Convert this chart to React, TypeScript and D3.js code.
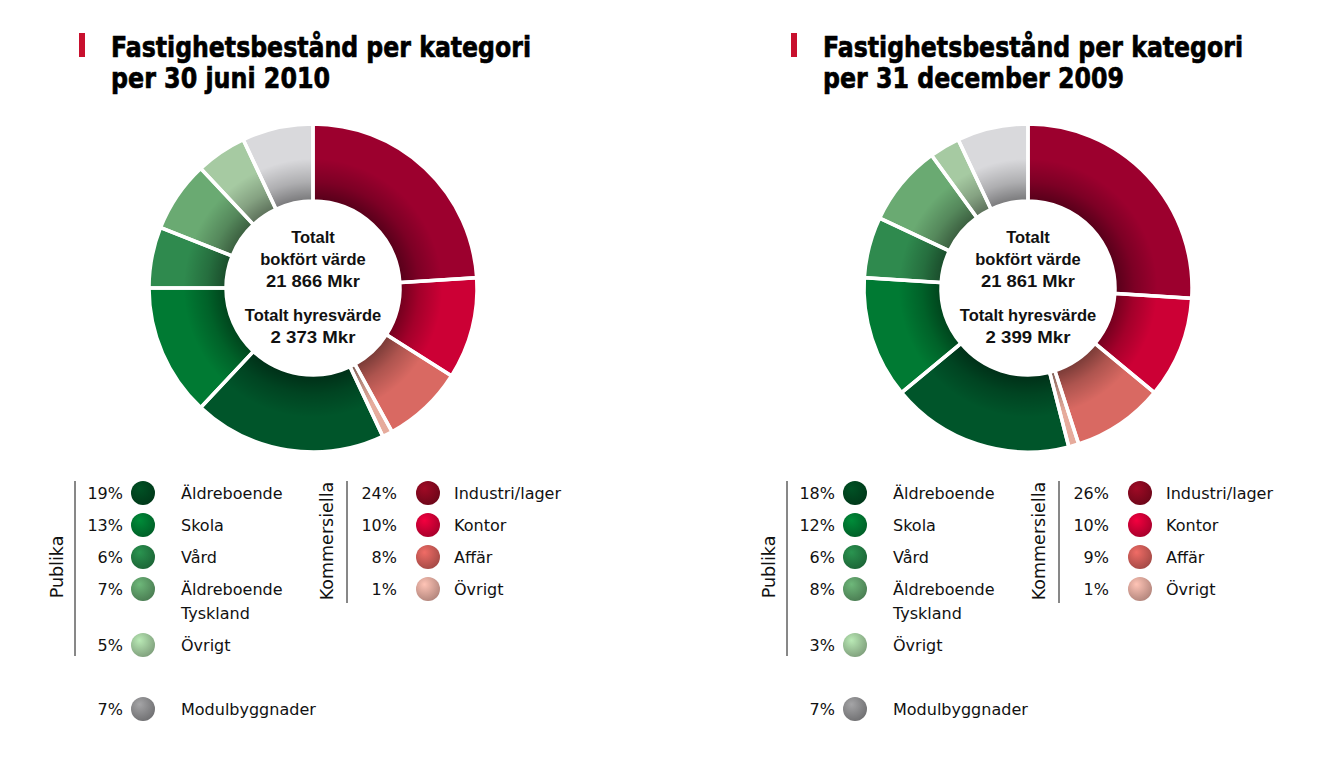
import React from "react";
import * as d3 from "d3";

// ---------- data ----------
const sliceNames = [
  "Industri/lager",
  "Kontor",
  "Affär",
  "Övrigt (kommersiella)",
  "Äldreboende",
  "Skola",
  "Vård",
  "Äldreboende Tyskland",
  "Övrigt (publika)",
  "Modulbyggnader",
];
const values2010 = [24, 10, 8, 1, 19, 13, 6, 7, 5, 7];
const values2009 = [26, 10, 9, 1, 18, 12, 6, 8, 3, 7];
const sliceColors = [
  "#9c002e",
  "#cc0035",
  "#d96962",
  "#e6ab9c",
  "#00552a",
  "#007a33",
  "#2f8a4e",
  "#6aaa72",
  "#a6caa2",
  "#d9d9dc",
];
const legendCircleColors = [
  "#86081f",
  "#cc0035",
  "#c95a55",
  "#dba498",
  "#00451f",
  "#007530",
  "#237c43",
  "#5c9a66",
  "#9cc498",
  "#8a8a8c",
];
const publikaIdx = [4, 5, 6, 7, 8];
const publikaLabels = [["Äldreboende"], ["Skola"], ["Vård"], ["Äldreboende", "Tyskland"], ["Övrigt"]];
const kommersIdx = [0, 1, 2, 3];
const kommersLabels = ["Industri/lager", "Kontor", "Affär", "Övrigt"];
const modulIdx = 9;
const modulLabel = "Modulbyggnader";

const titleLine1 = "Fastighetsbestånd per kategori";
const charts = [
  {
    id: "a",
    values: values2010,
    title2: "per 30 juni 2010",
    bokfort: "21 866 Mkr",
    hyres: "2 373 Mkr",
  },
  {
    id: "b",
    values: values2009,
    title2: "per 31 december 2009",
    bokfort: "21 861 Mkr",
    hyres: "2 399 Mkr",
  },
];

// ---------- layout ----------
const W = 1317;
const H = 781;
const panelDx = 712;
const pieCx = 313;
const pieCy = 288;
const pieDx = 715;
const rOuter = 164;
const rInner = 87;
const FONT = "'Liberation Sans', Arial, sans-serif";
const LFONT = "'DejaVu Sans', sans-serif";
const TITLE_SX = 0.72;

function Donut({ chart, cx }: { chart: any; cx: number }) {
  const pie = d3.pie<number>().sort(null).value((d) => d);
  const arcs = pie(chart.values);
  const arc = d3.arc<d3.PieArcDatum<number>>().innerRadius(rInner).outerRadius(rOuter);
  const gid = `shade-${chart.id}`;
  const ring = d3.arc()({ innerRadius: rInner, outerRadius: rOuter, startAngle: 0, endAngle: 2 * Math.PI } as any) as string;
  const tOff = rInner / rOuter;
  return (
    <g transform={`translate(${cx},${pieCy})`}>
      <defs>
        <radialGradient id={gid} gradientUnits="userSpaceOnUse" cx={0} cy={0} r={rOuter}>
          <stop offset={tOff} stopColor="#000" stopOpacity={0.45} />
          <stop offset={tOff + (1 - tOff) * 0.25} stopColor="#000" stopOpacity={0.2} />
          <stop offset={tOff + (1 - tOff) * 0.55} stopColor="#000" stopOpacity={0} />
          <stop offset={1} stopColor="#000" stopOpacity={0} />
        </radialGradient>
      </defs>
      {arcs.map((a, i) => (
        <path key={i} d={arc(a) as string} fill={sliceColors[i]} />
      ))}
      <path d={ring} fill={`url(#${gid})`} />
      {arcs.map((a, i) => (
        <path key={"s" + i} d={arc(a) as string} fill="none" stroke="#fff" strokeWidth={3.5} />
      ))}
      <circle r={rInner} fill="#fff" />
      <g fontFamily={FONT} fontWeight="bold" fontSize={16.5} textAnchor="middle" fill="#111">
        <text y={-45}>Totalt</text>
        <text y={-23}>bokfört värde</text>
        <text y={-1} textLength={94} lengthAdjust="spacingAndGlyphs">{chart.bokfort}</text>
        <text y={33}>Totalt hyresvärde</text>
        <text y={55} textLength={85} lengthAdjust="spacingAndGlyphs">{chart.hyres}</text>
      </g>
    </g>
  );
}

function LegendDot({ x, y, color, id }: { x: number; y: number; color: string; id: string }) {
  return (
    <g>
      <defs>
        <radialGradient id={id} cx="40%" cy="35%" r="70%" fx="35%" fy="30%">
          <stop offset="0%" stopColor={d3.color(color)!.brighter(0.5).formatHex()} />
          <stop offset="100%" stopColor={d3.color(color)!.darker(0.6).formatHex()} />
        </radialGradient>
      </defs>
      <circle cx={x} cy={y} r={12} fill={`url(#${id})`} />
    </g>
  );
}

function Panel({ chart, dx }: { chart: any; dx: number }) {
  const pubRows = [493, 525, 557, 589, 645];
  const komRows = [493, 525, 557, 589];
  const modRow = 709;
  const fs = 16;
  const t2 = chart.id === "a" ? 219 : 301;
  return (
    <g transform={`translate(${dx},0)`} fontFamily={LFONT} fill="#111">
      {/* title */}
      <rect x={79} y={33} width={6} height={24} fill="#c8102e" />
      <g fontFamily={LFONT} fontWeight="bold" fontSize={29} stroke="#000" strokeWidth={0.7} fill="#000">
        <text
          transform={`translate(111,57) scale(${TITLE_SX},1)`}
          textLength={420 / TITLE_SX}
          lengthAdjust="spacingAndGlyphs"
        >
          {titleLine1}
        </text>
        <text
          transform={`translate(111,88) scale(${TITLE_SX},1)`}
          textLength={t2 / TITLE_SX}
          lengthAdjust="spacingAndGlyphs"
        >
          {chart.title2}
        </text>
      </g>

      {/* Publika */}
      <line x1={75} x2={75} y1={481} y2={656} stroke="#111" strokeWidth={1} />
      <text transform={`translate(63,567) rotate(-90)`} textAnchor="middle" fontSize={17.5}>
        Publika
      </text>
      {publikaIdx.map((si, k) => (
        <g key={si}>
          <text x={123} y={pubRows[k] + 6} textAnchor="end" fontSize={fs}>
            {chart.values[si]}%
          </text>
          <LegendDot x={143} y={pubRows[k]} color={legendCircleColors[si]} id={`dot-${chart.id}-${si}`} />
          {publikaLabels[k].map((l, j) => (
            <text key={j} x={181} y={pubRows[k] + 6 + j * 24} fontSize={fs}>
              {l}
            </text>
          ))}
        </g>
      ))}

      {/* Kommersiella */}
      <line x1={347} x2={347} y1={481} y2={603} stroke="#111" strokeWidth={1} />
      <text transform={`translate(333,541) rotate(-90)`} textAnchor="middle" fontSize={17.5}>
        Kommersiella
      </text>
      {kommersIdx.map((si, k) => (
        <g key={si}>
          <text x={397} y={komRows[k] + 6} textAnchor="end" fontSize={fs}>
            {chart.values[si]}%
          </text>
          <LegendDot x={428} y={komRows[k]} color={legendCircleColors[si]} id={`dot-${chart.id}-${si}`} />
          <text x={454} y={komRows[k] + 6} fontSize={fs}>
            {kommersLabels[k]}
          </text>
        </g>
      ))}

      {/* Modulbyggnader */}
      <text x={123} y={modRow + 6} textAnchor="end" fontSize={fs}>
        {chart.values[modulIdx]}%
      </text>
      <LegendDot x={143} y={modRow} color={legendCircleColors[modulIdx]} id={`dot-${chart.id}-m`} />
      <text x={181} y={modRow + 6} fontSize={fs}>
        {modulLabel}
      </text>
    </g>
  );
}

export default function App() {
  return (
    <svg width={W} height={H} style={{ display: "block", position: "absolute", left: 0, top: 0 }}>
      <rect width={W} height={H} fill="#fff" />
      {charts.map((c, i) => (
        <g key={c.id}>
          <Donut chart={c} cx={pieCx + i * pieDx} />
          <Panel chart={c} dx={i * panelDx} />
        </g>
      ))}
    </svg>
  );
}
